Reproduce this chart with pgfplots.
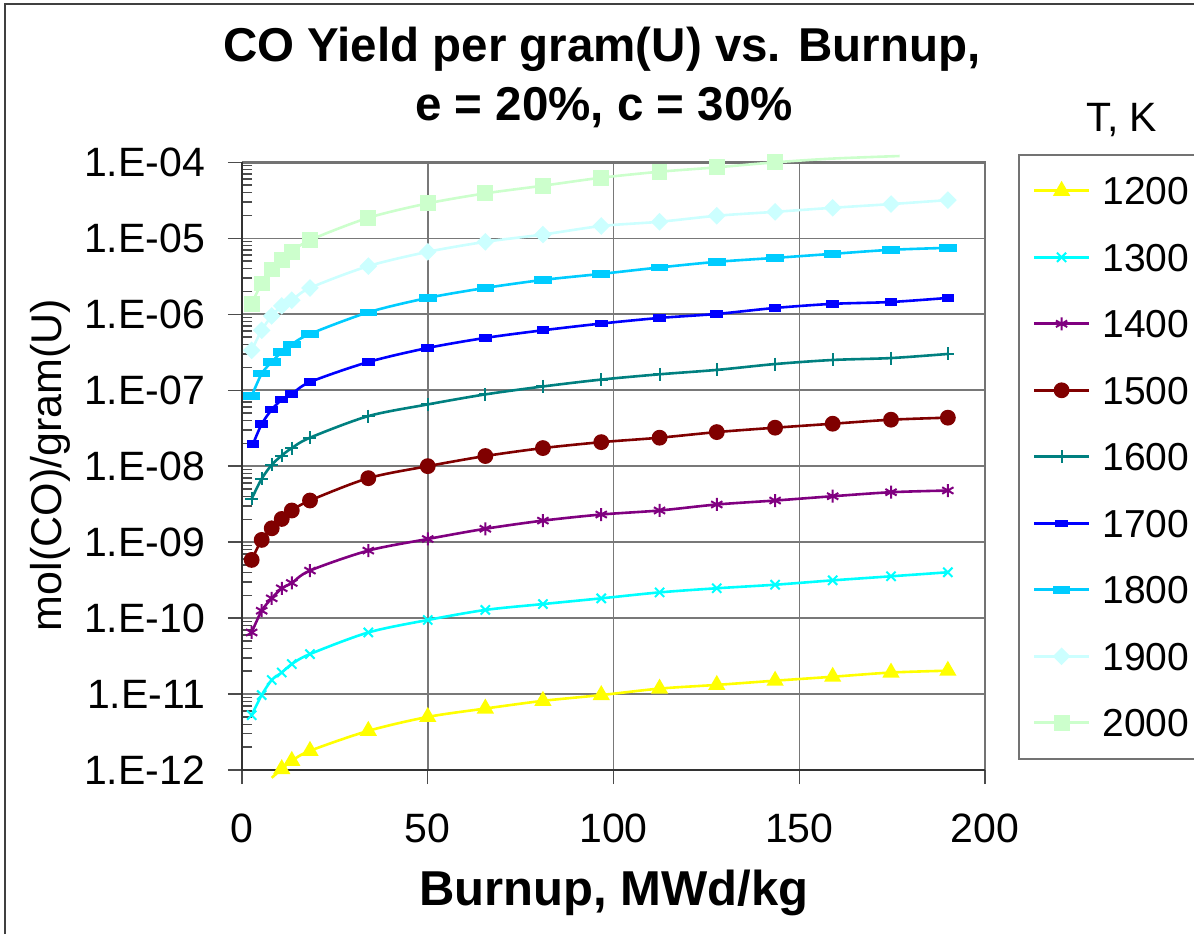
\documentclass[border=0pt]{standalone}
\usepackage{pgfplots}
\pgfplotsset{compat=1.18}
\usepackage{fontspec}
\setmainfont{Liberation Sans}
\definecolor{cA}{RGB}{255,255,0}
\definecolor{cB}{RGB}{0,255,255}
\definecolor{cC}{RGB}{128,0,128}
\definecolor{cD}{RGB}{128,0,0}
\definecolor{cE}{RGB}{0,128,128}
\definecolor{cF}{RGB}{0,0,255}
\definecolor{cG}{RGB}{0,204,255}
\definecolor{cH}{RGB}{204,255,255}
\definecolor{cI}{RGB}{204,255,204}
\definecolor{gridgray}{RGB}{120,120,120}
\begin{document}
\begin{tikzpicture}[x=1pt,y=1pt]
\useasboundingbox (0,0) rectangle (597,467);
\draw[line width=1pt, black!75] (2.5,0) -- (2.5,465) -- (597,465);
\begin{axis}[
  at={(121pt,82pt)}, anchor=south west,
  scale only axis, width=371.5pt, height=303.85pt,
  ymode=log, xmin=0, xmax=200, ymin=1e-12, ymax=1e-4,
  xtick={0,50,100,150,200}, xticklabels={0,50,100,150,200},
  ytick={1e-12,1e-11,1e-10,1e-9,1e-8,1e-7,1e-6,1e-5,1e-4},
  yticklabels={1.E-12,1.E-11,1.E-10,1.E-09,1.E-08,1.E-07,1.E-06,1.E-05,1.E-04},
  minor ytick={2e-12,3e-12,4e-12,5e-12,6e-12,7e-12,8e-12,9e-12,
    2e-11,3e-11,4e-11,5e-11,6e-11,7e-11,8e-11,9e-11,
    2e-10,3e-10,4e-10,5e-10,6e-10,7e-10,8e-10,9e-10,
    2e-9,3e-9,4e-9,5e-9,6e-9,7e-9,8e-9,9e-9,
    2e-8,3e-8,4e-8,5e-8,6e-8,7e-8,8e-8,9e-8,
    2e-7,3e-7,4e-7,5e-7,6e-7,7e-7,8e-7,9e-7,
    2e-6,3e-6,4e-6,5e-6,6e-6,7e-6,8e-6,9e-6,
    2e-5,3e-5,4e-5,5e-5,6e-5,7e-5,8e-5,9e-5},
  minor x tick num=0,
  xtick pos=bottom, ytick pos=left,
  tick align=outside, major tick length=7pt, minor tick length=-5pt,
  tick style={black!70, line width=0.7pt},
  grid=major, major grid style={gridgray, line width=0.75pt},
  minor grid style={draw=none},
  axis line style={draw=none},
  ticklabel style={font=\fontsize{20.5}{24}\selectfont},
  yticklabel style={xshift=-8pt},
  xticklabel style={yshift=-11.5pt},
  clip=false,
  every axis plot/.append style={line width=1.3pt, smooth, tension=0.5},
  legend cell align=left,
  legend style={at={(1.0444,1.0137)}, anchor=north west,
    draw=gray!90!black, line width=0.8pt,
    font=\fontsize{19.5}{22}\selectfont,
    inner xsep=4.5pt, inner ysep=11pt, row sep=19.25pt,
    nodes={inner sep=0pt, text height=14pt, text depth=0pt, anchor=west},
    /tikz/every odd column/.append style={column sep=6pt}},
  legend image code/.code={\path (0pt,0pt); \draw[mark indices={2}] plot coordinates {(2.5pt,0pt) (16.25pt,0pt) (30pt,0pt)};},
]
\draw[gray!90!black, line width=1.2pt] (rel axis cs:0,1) -- (rel axis cs:1,1) -- (rel axis cs:1,0);
\draw[black!80, line width=1.2pt] (rel axis cs:0,1) -- (rel axis cs:0,0) -- (rel axis cs:1,0);

% 1200
\addplot[color=cA, mark=triangle*, mark size=3.7pt, mark options={solid, fill=cA}, mark indices={2,...,15}] coordinates {
(8.0,7.9e-13) (10.7,1.03e-12) (13.4,1.32e-12) (18.3,1.79e-12) (34.0,3.28e-12) (50.0,5.0e-12) (65.5,6.45e-12) (81.0,8.14e-12) (96.7,9.7e-12) (112.4,1.18e-11) (127.8,1.32e-11) (143.5,1.5e-11) (159.0,1.69e-11) (174.7,1.92e-11) (190.0,2.03e-11)};
\addlegendentry{1200}
% 1300
\addplot[color=cB, mark=x, mark size=3.25pt, mark options={solid, line width=1pt}] coordinates {
(2.6,5.27e-12) (5.3,9.7e-12) (8.0,1.53e-11) (10.7,1.92e-11) (13.4,2.48e-11) (18.3,3.36e-11) (34.0,6.47e-11) (50.0,9.44e-11) (65.5,1.28e-10) (81.0,1.53e-10) (96.7,1.82e-10) (112.4,2.18e-10) (127.8,2.47e-10) (143.5,2.75e-10) (159.0,3.14e-10) (174.7,3.55e-10) (190.0,4.01e-10)};
\addlegendentry{1300}
% 1400
\addplot[color=cC, mark=asterisk, mark size=3.25pt, mark options={solid, line width=1pt}] coordinates {
(2.6,6.47e-11) (5.3,1.25e-10) (8.0,1.82e-10) (10.7,2.47e-10) (13.4,2.9e-10) (18.3,4.22e-10) (34.0,7.74e-10) (50.0,1.1e-9) (65.5,1.5e-9) (81.0,1.92e-9) (96.7,2.31e-9) (112.4,2.61e-9) (127.8,3.13e-9) (143.5,3.53e-9) (159.0,4.02e-9) (174.7,4.54e-9) (190.0,4.78e-9)};
\addlegendentry{1400}
% 1500
\addplot[color=cD, mark=*, mark size=3.3pt, mark options={solid, fill=cD}] coordinates {
(2.6,5.83e-10) (5.3,1.07e-9) (8.0,1.52e-9) (10.7,2.02e-9) (13.4,2.61e-9) (18.3,3.53e-9) (34.0,6.95e-9) (50.0,1.0e-8) (65.5,1.36e-8) (81.0,1.73e-8) (96.7,2.07e-8) (112.4,2.37e-8) (127.8,2.81e-8) (143.5,3.21e-8) (159.0,3.62e-8) (174.7,4.09e-8) (190.0,4.35e-8)};
\addlegendentry{1500}
% 1600
\addplot[color=cE, mark=+, mark size=3.25pt, mark options={solid, line width=1pt}] coordinates {
(2.6,3.72e-9) (5.3,6.82e-9) (8.0,1.04e-8) (10.7,1.38e-8) (13.4,1.73e-8) (18.3,2.37e-8) (34.0,4.56e-8) (50.0,6.5e-8) (65.5,8.81e-8) (81.0,1.12e-7) (96.7,1.38e-7) (112.4,1.62e-7) (127.8,1.85e-7) (143.5,2.21e-7) (159.0,2.5e-7) (174.7,2.65e-7) (190.0,3.0e-7)};
\addlegendentry{1600}
% 1700
\addplot[color=cF, mark=square*, mark size=1.5pt, mark options={solid, fill=cF, xscale=1.67, yscale=0.83}] coordinates {
(3.0,1.97e-8) (5.3,3.58e-8) (8.0,5.54e-8) (10.7,7.5e-8) (13.4,8.9e-8) (18.3,1.28e-7) (34.0,2.35e-7) (50.0,3.6e-7) (65.5,4.88e-7) (81.0,6.15e-7) (96.7,7.54e-7) (112.4,8.94e-7) (127.8,1.01e-6) (143.5,1.21e-6) (159.0,1.37e-6) (174.7,1.45e-6) (190.0,1.64e-6)};
\addlegendentry{1700}
% 1800
\addplot[color=cG, mark=square*, mark size=1.5pt, mark options={solid, fill=cG, xscale=2.5, yscale=0.83}] coordinates {
(2.6,8.37e-8) (5.3,1.65e-7) (8.0,2.35e-7) (10.7,3.18e-7) (13.4,4.02e-7) (18.3,5.5e-7) (34.0,1.06e-6) (50.0,1.64e-6) (65.5,2.22e-6) (81.0,2.83e-6) (96.7,3.4e-6) (112.4,4.13e-6) (127.8,4.9e-6) (143.5,5.52e-6) (159.0,6.24e-6) (174.7,7.05e-6) (190.0,7.48e-6)};
\addlegendentry{1800}
% 1900
\addplot[color=cH, mark=diamond*, mark size=3.5pt, mark options={solid, fill=cH, xscale=1.33}] coordinates {
(2.6,3.35e-7) (5.3,6.15e-7) (8.0,9.5e-7) (10.7,1.29e-6) (13.4,1.53e-6) (18.3,2.22e-6) (34.0,4.3e-6) (50.0,6.63e-6) (65.5,8.98e-6) (81.0,1.12e-5) (96.7,1.45e-5) (112.4,1.65e-5) (127.8,1.98e-5) (143.5,2.23e-5) (159.0,2.52e-5) (174.7,2.82e-5) (190.0,3.18e-5)};
\addlegendentry{1900}
% 2000
\addplot[color=cI, mark=square*, mark size=3.3pt, mark options={solid, fill=cI}, mark indices={1,...,14}] coordinates {
(2.6,1.38e-6) (5.3,2.54e-6) (8.0,3.88e-6) (10.7,5.15e-6) (13.4,6.63e-6) (18.3,9.46e-6) (34.0,1.86e-5) (50.0,2.88e-5) (65.5,3.9e-5) (81.0,4.92e-5) (96.7,6.27e-5) (112.4,7.52e-5) (127.8,8.59e-5) (143.5,1.0e-4) (159.0,1.12e-4) (177.0,1.21e-4)};
\addlegendentry{2000}
\end{axis}
\node[anchor=base, font=\bfseries\fontsize{23.75}{28}\selectfont] at (301,436) {CO Yield per gram(U) vs. Burnup,};
\node[anchor=base, font=\bfseries\fontsize{23.75}{28}\selectfont] at (302,406.5) {e = 20\%, c = 30\%};
\node[anchor=base, font=\bfseries\fontsize{24.5}{28}\selectfont] at (307,14.5) {Burnup, MWd/kg};
\node[rotate=90, font=\fontsize{21.5}{26}\selectfont] at (25,234.5) {mol(CO)/gram(U)};
\node[anchor=base, font=\fontsize{20.5}{24}\selectfont] at (561,401) {T, K};
\end{tikzpicture}
\end{document}
